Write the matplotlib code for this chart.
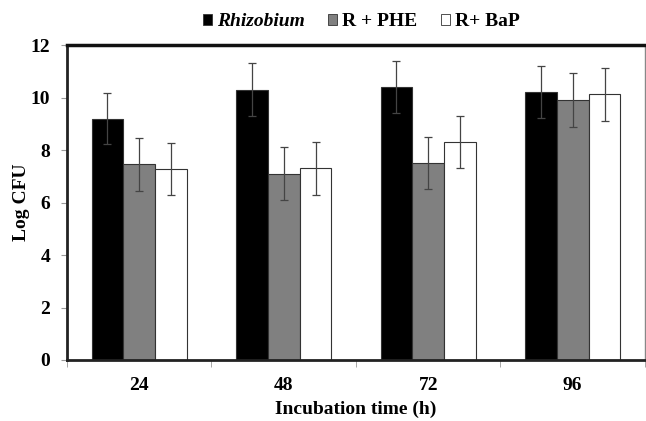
import numpy as np
import matplotlib.pyplot as plt
from matplotlib.patches import Patch

# --- data ---
times = ["24", "48", "72", "96"]
series = ["Rhizobium", "R + PHE", "R+ BaP"]
rhizobium = [9.2, 10.3, 10.4, 10.22]
r_phe = [7.45, 7.1, 7.5, 9.9]
r_bap = [7.28, 7.3, 8.3, 10.12]
err_rhizobium = [0.97, 1.0, 1.0, 0.98]
err_phe = [1.0, 1.0, 1.0, 1.02]
err_bap = [1.0, 1.0, 1.0, 1.0]

plt.rcParams['font.family'] = ['Liberation Serif', 'DejaVu Serif']
plt.rcParams['font.weight'] = 'bold'

fig = plt.figure(figsize=(6.46, 4.21), dpi=100)
ax = fig.add_axes([0.1037, 0.1449, 0.8947, 0.748])

x = np.arange(len(times))
w = 0.22
colors = ['black', '#808080', 'white']
vals = [rhizobium, r_phe, r_bap]
errs = [err_rhizobium, err_phe, err_bap]
for k in range(3):
    ax.bar(x + (k - 1) * w, vals[k], w, yerr=errs[k], color=colors[k],
           edgecolor='#333333', linewidth=0.8,
           error_kw=dict(ecolor='#444444', elinewidth=0.9, capsize=3, capthick=0.9))

ax.set_xlim(-0.5, len(times) - 0.5)
ax.set_ylim(0, 12)
ax.set_yticks(range(0, 13, 2))
ax.set_xticks(x)
ax.set_xticklabels(times)
ax.set_xticks(np.arange(-0.5, len(times), 1.0), minor=True)
ax.tick_params(axis='x', which='major', length=0, pad=12, labelsize=14)
ax.tick_params(axis='x', which='minor', length=5, color='#999999', direction='out')
ax.tick_params(axis='y', length=4, color='#999999', labelsize=14, pad=8)

for s in ['left', 'bottom']:
    ax.spines[s].set_linewidth(2)
    ax.spines[s].set_color('#222222')
ax.spines['top'].set_linewidth(2.5)
ax.spines['top'].set_color('#111111')
ax.spines['right'].set_linewidth(1)
ax.spines['right'].set_color('#888888')

ax.set_ylabel("Log CFU", fontsize=14, fontweight='bold', va='center')
ax.yaxis.set_label_coords(-0.078, 0.5)
ax.set_xlabel("Incubation time (h)", fontsize=14, fontweight='bold', labelpad=5)

handles = [Patch(facecolor=colors[k], edgecolor='#333333', linewidth=0.6) for k in range(3)]
leg = fig.legend(handles, series, loc='center', bbox_to_anchor=(0.559, 0.948), ncol=3,
                 frameon=False, fontsize=14, handlelength=0.47, handleheight=0.47,
                 handletextpad=0.26, columnspacing=1.2)
leg.get_texts()[0].set_style('italic')

plt.savefig("out.png", dpi=100)
